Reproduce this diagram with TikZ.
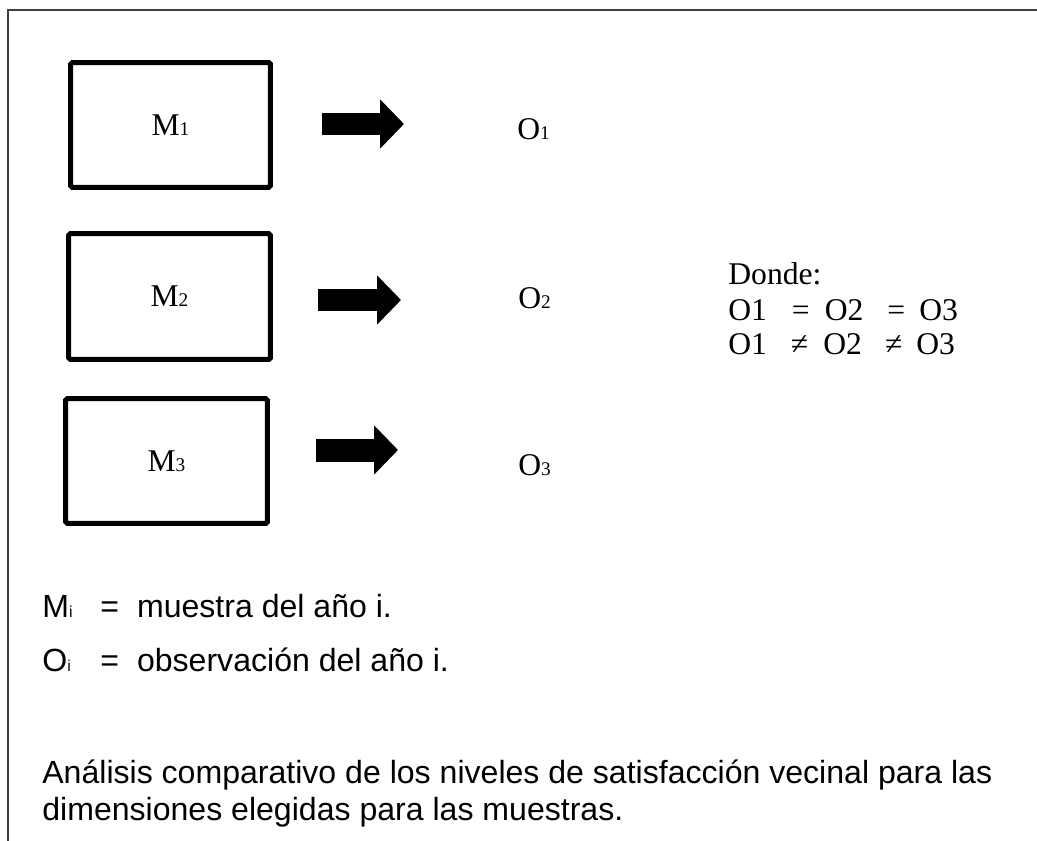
\documentclass[tikz,border=0pt]{standalone}
\usepackage{fontspec}
\setmainfont{Liberation Serif}
\newfontfamily\arialfont{Liberation Sans}
\usetikzlibrary{arrows.meta}

\newcommand{\chico}[1]{{\fontsize{11}{11}\selectfont #1}}
\newcommand{\chicoi}{{\fontsize{9}{9}\selectfont i}}

\begin{document}
\begin{tikzpicture}[x=0.02cm,y=-0.02cm,
    muestra/.style={draw, line width=0.1cm, rounded corners=1pt, minimum width=4cm,
      minimum height=2.5cm, inner sep=0pt, font=\fontsize{18}{20}\selectfont},
    obs/.style={anchor=base west, inner sep=0pt, font=\fontsize{18}{20}\selectfont},
    leyenda/.style={anchor=base west, inner sep=0pt,
      font=\arialfont\fontsize{18.25}{22}\selectfont},
    flecha/.style={line width=0.46cm, -{Triangle[length=0.48cm,width=0.96cm]}},
    marco/.style={draw=black!75, line width=0.6pt}]

        \useasboundingbox (0,0) rectangle (1037,841);
        \draw[marco] (8,841) -- (8,10) -- (1037,10);

        \node[muestra] (m1) at (170.5,125) {M\chico{1}};
        \node[muestra, minimum width=4.04cm, minimum height=2.52cm] (m2) at (169.5,296.5) {M\chico{2}};
        \node[muestra, minimum width=4.04cm] (m3) at (166.5,461) {M\chico{3}};

        \node[obs] (o1) at (517,140) {O\chico{1}};
        \node[obs] (o2) at (518,308) {O\chico{2}};
        \node[obs] (o3) at (518,475) {O\chico{3}};

        \coordinate (f1a) at (322,124);
        \coordinate (f1b) at (404,124);
        \coordinate (f2a) at (318,300);
        \coordinate (f2b) at (401,300);
        \coordinate (f3a) at (316,450);
        \coordinate (f3b) at (398,450);
        \draw[flecha] (f1a) -- (f1b);
        \draw[flecha] (f2a) -- (f2b);
        \draw[flecha] (f3a) -- (f3b);

        \node[obs] (donde) at (728,284) {Donde:};
        \node[obs] (igual) at (728,320) {O1\hspace{0.5cm}=\hspace{0.3cm}O2\hspace{0.48cm}=\hspace{0.28cm}O3};
        \node[obs] (distinto) at (728,354) {O1\hspace{0.48cm}≠\hspace{0.3cm}O2\hspace{0.46cm}≠\hspace{0.28cm}O3};

        \node[leyenda] (mi) at (42,617) {\makebox[1.16cm][l]{M\chicoi}=\hspace{0.36cm}muestra del año i.};
        \node[leyenda] (oi) at (42,671) {\makebox[1.16cm][l]{O\chicoi}=\hspace{0.36cm}observación del año i.};
        \node[leyenda] (analisis) at (42,783) {Análisis comparativo de los niveles de satisfacción vecinal para las};
        \node[leyenda] (dimensiones) at (42,820) {dimensiones elegidas para las muestras.};
    \end{tikzpicture}
\end{document}
